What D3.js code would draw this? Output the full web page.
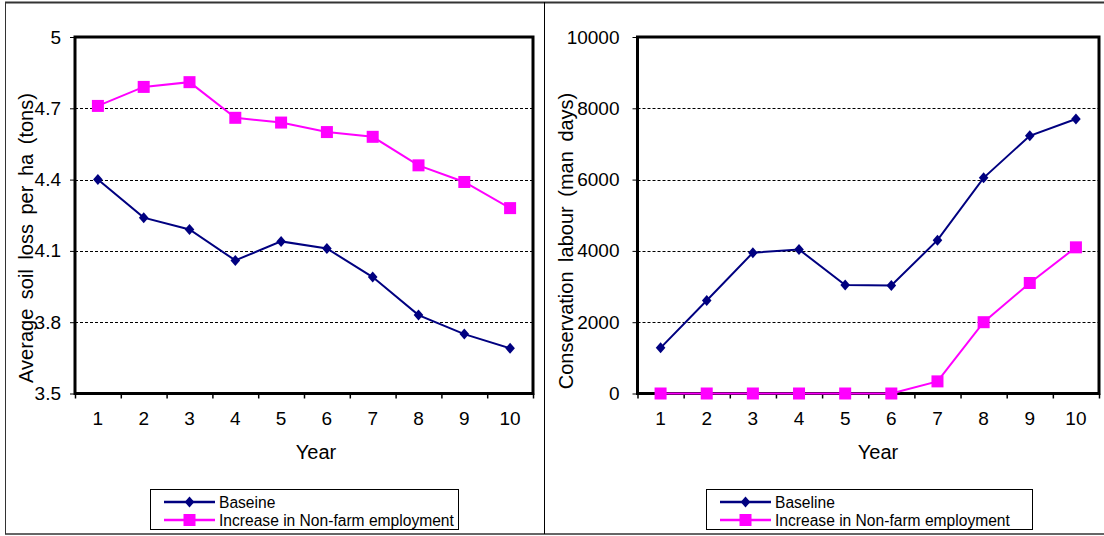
<!DOCTYPE html>
<html>
<head>
<meta charset="utf-8">
<script src="https://cdn.jsdelivr.net/npm/d3@7/dist/d3.min.js"></script>
<style>
  html, body { margin: 0; padding: 0; background: #fff; }
  svg { display: block; font-family: "Liberation Sans", Arial, sans-serif; }
</style>
</head>
<body>
<svg id="chart" width="1104" height="536"></svg>
<script>
// Years on the horizontal axis (shared by both panels)
const years = [1, 2, 3, 4, 5, 6, 7, 8, 9, 10];

// Panel 1: average soil loss per ha (tons)
const soilBaseline = [4.40, 4.24, 4.19, 4.06, 4.14, 4.11, 3.99, 3.83, 3.75, 3.69];
const soilNonFarm  = [4.71, 4.79, 4.81, 4.66, 4.64, 4.60, 4.58, 4.46, 4.39, 4.28];
const soilTicks = [3.5, 3.8, 4.1, 4.4, 4.7, 5.0];
const soilTickLabels = ["3.5", "3.8", "4.1", "4.4", "4.7", "5"];

// Panel 2: conservation labour (man days)
const labourBaseline = [1280, 2610, 3950, 4040, 3040, 3030, 4300, 6050, 7230, 7700];
const labourNonFarm  = [0, 0, 0, 0, 0, 0, 340, 2000, 3100, 4100];
const labourTicks = [0, 2000, 4000, 6000, 8000, 10000];
const labourTickLabels = ["0", "2000", "4000", "6000", "8000", "10000"];

const seriesNames = ["Baseline", "Increase in Non-farm employment"];
const leftLegendNames = ["Baseine", "Increase in Non-farm employment"];

const NAVY = "#000080";
const MAGENTA = "#ff00ff";

const svg = d3.select("#chart");

// Outer frame and divider between the two panels
svg.append("line").attr("x1", 5).attr("x2", 1104).attr("y1", 2.5).attr("y2", 2.5)
  .attr("stroke", "#333").attr("stroke-width", 2);
svg.append("line").attr("x1", 5).attr("x2", 1104).attr("y1", 534).attr("y2", 534)
  .attr("stroke", "#666").attr("stroke-width", 2);
svg.append("line").attr("x1", 5.5).attr("x2", 5.5).attr("y1", 2).attr("y2", 534)
  .attr("stroke", "#333").attr("stroke-width", 1);
svg.append("line").attr("x1", 544.5).attr("x2", 544.5).attr("y1", 2).attr("y2", 534)
  .attr("stroke", "#000").attr("stroke-width", 1);

function drawPanel(p) {
  const g = svg.append("g");
  const x = d3.scaleLinear().domain([0.5, 10.5]).range([p.left, p.right]);
  const y = d3.scaleLinear().domain(p.yDomain).range([p.bottom, p.top]);

  // Dashed gridlines at interior ticks
  g.selectAll("line.grid")
    .data(p.yTicks.slice(1, -1))
    .join("line")
    .attr("x1", p.left).attr("x2", p.right)
    .attr("y1", d => Math.round(y(d)) + 0.5).attr("y2", d => Math.round(y(d)) + 0.5)
    .attr("stroke", "#000").attr("stroke-width", 1)
    .attr("stroke-dasharray", "3,2");

  // Y axis with labels
  const yAxis = d3.axisLeft(y)
    .tickValues(p.yTicks)
    .tickFormat((d, i) => p.yTickLabels[i])
    .tickSize(5)
    .tickPadding(p.yPad);
  const ya = g.append("g").attr("transform", `translate(${p.left},0)`).call(yAxis);
  ya.select(".domain").remove();
  ya.selectAll("text").attr("font-size", 19).attr("fill", "#000")
    .attr("font-family", "Liberation Sans, Arial, sans-serif");
  ya.selectAll("line").attr("stroke", "#000");

  // X axis: ticks at category boundaries, labels at category centres
  const xAxis = d3.axisBottom(x)
    .tickValues(d3.range(0.5, 11, 1))
    .tickFormat("")
    .tickSize(5);
  const xa = g.append("g").attr("transform", `translate(0,${p.bottom})`).call(xAxis);
  xa.select(".domain").remove();
  xa.selectAll("line").attr("stroke", "#000").attr("stroke-width", 1.5);

  g.selectAll("text.xl")
    .data(years)
    .join("text")
    .attr("x", d => x(d))
    .attr("y", 425)
    .attr("text-anchor", "middle")
    .attr("font-size", 19)
    .text(d => d);

  // Plot frame
  g.append("rect")
    .attr("x", p.left).attr("y", p.top)
    .attr("width", p.right - p.left).attr("height", p.bottom - p.top)
    .attr("fill", "none").attr("stroke", "#000").attr("stroke-width", 3);

  // Axis titles
  g.append("text")
    .attr("x", p.yearX).attr("y", 459)
    .attr("text-anchor", "middle")
    .attr("font-size", 20)
    .text("Year");

  g.append("text")
    .attr("transform", `translate(${p.titleX},${p.titleY}) rotate(-90)`)
    .attr("text-anchor", "middle")
    .attr("font-size", 20)
    .attr("word-spacing", 4)
    .text(p.yTitle);

  const line = d3.line().x((d, i) => x(years[i])).y(d => y(d));

  // Non-farm employment series (magenta squares)
  g.append("path").datum(p.nonfarm)
    .attr("d", line).attr("fill", "none")
    .attr("stroke", MAGENTA).attr("stroke-width", 2);
  g.selectAll("rect.sq")
    .data(p.nonfarm)
    .join("rect")
    .attr("x", (d, i) => x(years[i]) - 6)
    .attr("y", d => y(d) - 6)
    .attr("width", 12).attr("height", 12)
    .attr("fill", MAGENTA);

  // Baseline series (navy diamonds)
  const diamond = "M0,-5.5L4.8,0L0,5.5L-4.8,0Z";
  g.append("path").datum(p.baseline)
    .attr("d", line).attr("fill", "none")
    .attr("stroke", NAVY).attr("stroke-width", 2);
  g.selectAll("path.dm")
    .data(p.baseline)
    .join("path")
    .attr("d", diamond)
    .attr("transform", (d, i) => `translate(${x(years[i])},${y(d)})`)
    .attr("fill", NAVY);

  // Legend
  const lg = g.append("g");
  lg.append("rect")
    .attr("x", p.legX + 0.5).attr("y", 489.5)
    .attr("width", p.legW).attr("height", 40)
    .attr("fill", "#fff").attr("stroke", "#000").attr("stroke-width", 1);
  const rows = [
    { name: p.legendNames[0], color: NAVY, y: 502, marker: "diamond" },
    { name: p.legendNames[1], color: MAGENTA, y: 520, marker: "square" }
  ];
  rows.forEach(r => {
    const x1 = p.legX + 14, x2 = p.legX + 65;
    lg.append("line")
      .attr("x1", x1).attr("x2", x2).attr("y1", r.y).attr("y2", r.y)
      .attr("stroke", r.color).attr("stroke-width", 2.5);
    const cx = (x1 + x2) / 2;
    if (r.marker === "diamond") {
      lg.append("path").attr("d", diamond)
        .attr("transform", `translate(${cx},${r.y})`).attr("fill", r.color);
    } else {
      lg.append("rect").attr("x", cx - 6).attr("y", r.y - 6)
        .attr("width", 12).attr("height", 12).attr("fill", r.color);
    }
    lg.append("text")
      .attr("x", p.legX + 69).attr("y", r.y + 5.5)
      .attr("font-size", 15.6)
      .text(r.name);
  });
}

drawPanel({
  left: 75, right: 533, top: 37, bottom: 393.5,
  yDomain: [3.5, 5.0], yTicks: soilTicks, yTickLabels: soilTickLabels, yPad: 9,
  baseline: soilBaseline, nonfarm: soilNonFarm,
  yTitle: "Average soil loss per ha (tons)", titleX: 33, titleY: 238,
  yearX: 316,
  legX: 150, legW: 308, legendNames: leftLegendNames
});

drawPanel({
  left: 637.5, right: 1099, top: 37, bottom: 393.5,
  yDomain: [0, 10000], yTicks: labourTicks, yTickLabels: labourTickLabels, yPad: 13,
  baseline: labourBaseline, nonfarm: labourNonFarm,
  yTitle: "Conservation labour (man days)", titleX: 573, titleY: 241,
  yearX: 878,
  legX: 706, legW: 326, legendNames: seriesNames
});
</script>
</body>
</html>
